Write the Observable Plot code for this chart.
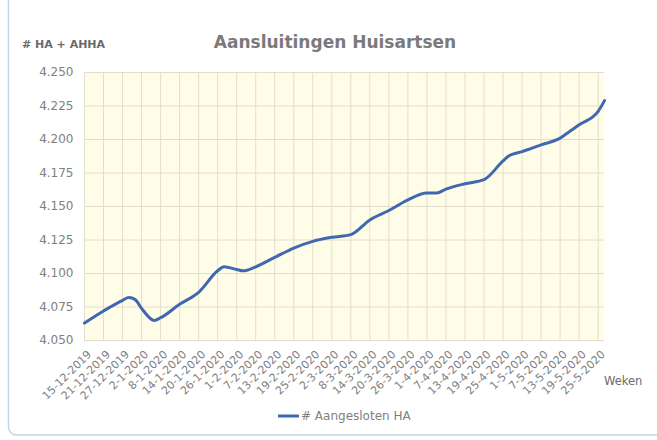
<!DOCTYPE html>
<html><head><meta charset="utf-8">
<script src="https://cdn.jsdelivr.net/npm/d3@7"></script>
<script src="https://cdn.jsdelivr.net/npm/@observablehq/plot@0.6"></script>
<style>html,body{margin:0;padding:0;background:#fff;}</style>
</head><body><div id="chart"></div>
<script>
// Data (dd-mm-yyyy)
const dates = ["15-12-2019","21-12-2019","27-12-2019","29-12-2019","31-12-2019","02-01-2020","06-01-2020","08-01-2020","14-01-2020","20-01-2020","26-01-2020","28-01-2020","01-02-2020","03-02-2020","07-02-2020","13-02-2020","19-02-2020","25-02-2020","02-03-2020","08-03-2020","14-03-2020","20-03-2020","26-03-2020","01-04-2020","04-04-2020","07-04-2020","13-04-2020","19-04-2020","25-04-2020","27-04-2020","01-05-2020","07-05-2020","13-05-2020","16-05-2020","19-05-2020","25-05-2020","27-05-2020"];
const values = [4063,4072,4080,4082,4080.5,4074,4065,4067,4077,4086,4102,4105,4103,4102,4105,4112,4119,4124,4127,4129,4140,4147,4155,4160,4160,4163,4167,4170,4184,4188,4191,4196,4201,4206,4211,4221,4229];
const tickLabels = ["15-12-2019","21-12-2019","27-12-2019","2-1-2020","8-1-2020","14-1-2020","20-1-2020","26-1-2020","1-2-2020","7-2-2020","13-2-2020","19-2-2020","25-2-2020","2-3-2020","8-3-2020","14-3-2020","20-3-2020","26-3-2020","1-4-2020","7-4-2020","13-4-2020","19-4-2020","25-4-2020","1-5-2020","7-5-2020","13-5-2020","19-5-2020","25-5-2020"];
const yTicks = [4050,4075,4100,4125,4150,4175,4200,4225,4250];
const seriesName = "# Aangesloten HA";
const titleText = "Aansluitingen Huisartsen";
const yTitle = "# HA + AHHA";
const xTitle = "Weken";

const parse = d3.utcParse("%d-%m-%Y");
const data = dates.map((d, i) => ({date: parse(d), value: values[i]}));
const ticks = tickLabels.map(parse);
const fmtY = d => (d / 1000).toFixed(3);

const blue = "#4068b2";
const grid = "#e2decd";

const svg = Plot.plot({
  width: 657, height: 440,
  marginLeft: 84, marginRight: 53, marginTop: 72, marginBottom: 100,
  style: {fontFamily: "DejaVu Sans", fontSize: "11px", color: "#808080", background: "transparent"},
  x: {type: "utc", domain: [parse("15-12-2019"), parse("27-05-2020")]},
  y: {domain: [4050, 4250]},
  marks: [
    Plot.frame({fill: "#fffde8", stroke: null}),
    Plot.gridX(ticks, {stroke: grid, strokeOpacity: 1}),
    Plot.gridY(yTicks, {stroke: grid, strokeOpacity: 1}),
    Plot.axisY({ticks: yTicks, tickFormat: fmtY, tickSize: 0, tickPadding: 11, fontSize: 12, label: null}),
    Plot.axisX({ticks: ticks, tickFormat: (d, i) => tickLabels[i], tickRotate: -45, tickSize: 0, tickPadding: 12, dx: 5, label: null}),
    Plot.line(data, {x: "date", y: "value", stroke: blue, strokeWidth: 3, curve: "monotone-x"})
  ]
});

const s = d3.select(svg);
s.insert("rect", ":first-child")
  .attr("x", 8.5).attr("y", -20).attr("width", 700).attr("height", 455).attr("rx", 8)
  .attr("fill", "none").attr("stroke", "#c5d5e2").attr("stroke-width", 1.5);
s.append("text").attr("x", 335).attr("y", 48).attr("text-anchor", "middle")
  .attr("font-family", "DejaVu Sans").attr("font-weight", "bold").attr("font-size", 17)
  .attr("fill", "#7a7a7a").text(titleText);
s.append("text").attr("x", 22).attr("y", 48).attr("text-anchor", "start")
  .attr("font-family", "DejaVu Sans").attr("font-weight", "bold").attr("font-size", 11)
  .attr("fill", "#6a6a6a").text(yTitle);
s.append("text").attr("x", 604).attr("y", 385).attr("text-anchor", "start")
  .attr("font-family", "DejaVu Sans").attr("font-size", 11.5)
  .attr("fill", "#6a6a6a").text(xTitle);
s.append("line").attr("x1", 278).attr("x2", 299).attr("y1", 416).attr("y2", 416)
  .attr("stroke", blue).attr("stroke-width", 3);
s.append("text").attr("x", 301).attr("y", 420).attr("text-anchor", "start")
  .attr("font-family", "DejaVu Sans").attr("font-size", 12)
  .attr("fill", "#808080").text(seriesName);

document.getElementById("chart").appendChild(svg);
</script>
</body></html>
